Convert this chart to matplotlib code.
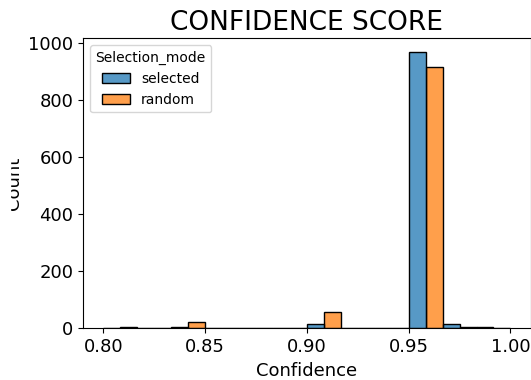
import numpy as np
import pandas as pd
import matplotlib
matplotlib.use("Agg")
import matplotlib.pyplot as plt
import seaborn as sns

# 12 bins from 0.80 to 1.00, counts
n_bins = 12
bin_range = (0.80, 1.00)
edges = np.linspace(bin_range[0], bin_range[1], n_bins + 1)
centers = (edges[:-1] + edges[1:]) / 2

modes = ['selected', 'random']
selected_counts = [0, 0, 6, 0, 0, 0, 15, 0, 0, 969, 14, 4]
random_counts = [3, 0, 23, 0, 1, 0, 57, 0, 1, 917, 4, 1]

df = pd.DataFrame({
    'Confidence': np.concatenate([centers, centers]),
    'w': selected_counts + random_counts,
    'Selection_mode': ['selected'] * n_bins + ['random'] * n_bins,
})

fig = plt.figure(figsize=(5.31, 3.80), dpi=100)
ax = fig.add_axes([83 / 531, 51.7 / 380, 447.8 / 531, 289.9 / 380])

sns.histplot(data=df, x='Confidence', weights='w', hue='Selection_mode',
             hue_order=modes, bins=n_bins, binrange=bin_range,
             multiple='dodge', ax=ax)

ax.set_title('CONFIDENCE SCORE', fontsize=19)
ax.set_xlabel('Confidence', fontsize=13)
ax.set_ylabel('Count', fontsize=13, labelpad=4)
ax.tick_params(labelsize=13)

leg = ax.get_legend()
leg.set_loc('upper left')
leg.get_title().set_fontsize(10)
for t in leg.get_texts():
    t.set_fontsize(10)

# the original image is cut off on the left side
fig.patches.append(plt.Rectangle((0, 0), 10 / 531, 1, transform=fig.transFigure,
                                 color='white', zorder=10))

fig.savefig('out.png', dpi=100)
